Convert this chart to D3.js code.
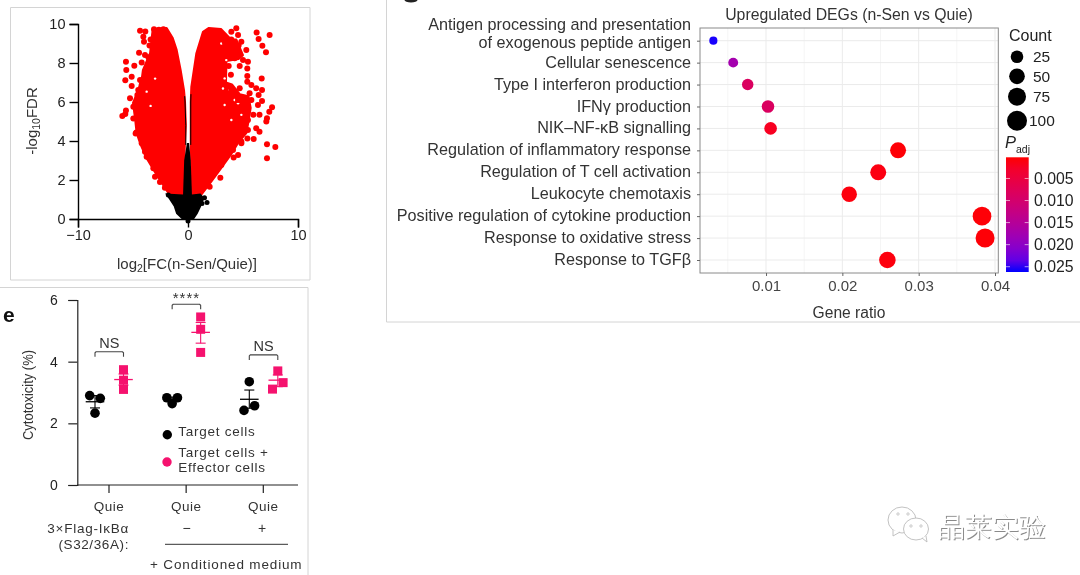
<!DOCTYPE html>
<html><head><meta charset="utf-8">
<script src="https://cdnjs.cloudflare.com/ajax/libs/d3/7.8.5/d3.min.js"></script>
<style>html,body{margin:0;padding:0;background:#fff}svg{display:block;filter:blur(0.35px)}text{font-family:"Liberation Sans",Arial,sans-serif}</style>
</head><body><svg id="c" width="1080" height="575"></svg>
<script>
// ---------- volcano data (log2FC, -log10FDR) ----------
const redLeftOuter=[[-0.45,1.2],[-1.64,1.2],[-2.1,1.6],[-2.85,2.26],[-3.75,3.1],[-4.3,3.8],[-4.67,4.4],[-4.8,5.08],[-5,5.95],[-4.6,6.5],[-4.2,7.2],[-4.1,7.64],[-3.45,8.5],[-3.3,9.3],[-3.2,9.75]];
const redLeftInner=[[-1.94,9.8],[-1.4,9.3],[-1.03,8.67],[-0.67,7.64],[-0.36,6.6],[-0.27,6],[-0.2,4.8],[-0.35,3],[-0.45,1.2]];
const redRightOuter=[[0.36,1.2],[1.2,1.23],[2.1,1.9],[3,2.6],[3.9,3.3],[4.55,3.9],[5.3,4.4],[5.5,5],[5.7,5.7],[5.5,6.3],[4.7,6.4],[4,6.9],[3.45,7],[3.5,8.1],[4.6,8.2],[5,8.4],[4.4,9.2],[3.94,9.2],[3,9.75]];
const redRightInner=[[1.9,9.8],[1.36,9.6],[0.76,8.5],[0.3,6.77],[0.25,6],[0.25,4],[0.36,1.2]];
const redLeftPoints=[[-4.36,9.66],[-3.88,9.61],[-3.09,9.73],[-2.24,9.73],[-2.65,9.7],[-4.06,9.35],[-4,9.09],[-4.45,8.53],[-3.91,8.41],[-4.21,8.02],[-5.64,8.07],[-4.88,7.86],[-5.61,7.64],[-5.12,7.3],[-5.7,7.11],[-5.12,6.82],[-4.36,7.13],[-3.76,7.64],[-4.52,6.62],[-5.27,6.19],[-4.6,6.36],[-5.64,5.56],[-5.97,5.28],[-5.7,5.38],[-4.97,5.16],[-4.7,4.43],[-4.97,5.76],[-4.21,4.9],[-4.21,4.31],[-4,3.88],[-3.5,8.9],[-3.6,8.3],[-3.9,7.1],[-4.2,6.9],[-3.4,9.2],[-4.76,4.39],[-4.21,3.88],[-3.91,3.45],[-3.76,3.19],[-3.15,2.6],[-3,2.17],[-2.55,1.9],[-2.1,1.6]];
const redRightPoints=[[6.24,9.57],[7.42,9.44],[6.42,9.23],[6.76,8.89],[7.09,8.55],[4.39,9.78],[3.94,9.6],[4.55,9.43],[4.85,9.09],[5.3,8.67],[5,8.15],[5.45,8.07],[5.39,7.72],[5.39,7.33],[5.39,7.04],[6.7,7.21],[5.76,6.87],[6.73,6.61],[4.7,6.7],[5.6,6.45],[6.2,6.7],[6.42,6.36],[6.73,6.05],[6.36,5.85],[7.64,5.73],[7.39,5.5],[5.94,5.34],[7.18,5.17],[7.12,5],[6.5,5.34],[5.76,6.1],[3.94,6.62],[4.55,6.1],[5.45,5.08],[6.2,4.65],[4.24,8.24],[3.64,8.67],[3.33,9.09],[3.94,9.2],[6.5,4.47],[5.97,4.1],[5.4,4.13],[7.18,3.83],[7.94,3.69],[7.18,3.11],[4.85,3.88],[4.55,3.28],[4.15,3.15],[2.94,2.12],[1.97,1.66],[4.6,8.9],[4.2,8.7],[4.7,7.85],[3.9,7.4],[3.7,7.85],[3.03,2.77],[3.18,3.71],[2.27,2.26],[4.09,3.54],[4.85,3.97],[5.45,4.56]];
const cloudGaps=[[-3.76,6.53],[-2.99,7.2],[-3.4,5.8],[3.33,5.85],[3.79,6.62],[3.94,5.08],[4.24,6.1],[4.55,5.93],[4.85,5.34],[3.33,7.21],[3.18,6.69],[3.03,9],[3.48,8.15]];
const blackBlob=[[-0.45,1.2],[-1.9,1.25],[-1.6,1],[-1.2,0.65],[-1,0.3],[-0.45,0],[0.45,0],[0.8,0.3],[1.1,0.65],[1.4,1.05],[1.1,1.25],[0.36,1.2]];
const blackSpine=[[-0.45,1.2],[-0.35,3],[-0.1,3.9],[0.1,3.9],[0.25,3],[0.36,1.2]];
const blackEdgeLeft=[[-0.2,3.8],[-0.2,4.8],[-0.27,6],[-0.3,6.3]];
const blackEdgeRight=[[0.25,3.8],[0.25,6],[0.27,6.4]];
const blackPoints=[[1.5,1.09],[1.73,0.85],[1.27,0.8],[-1.79,1.23],[0,-0.1]];
const volcanoXTicks=[-10,0,10], volcanoYTicks=[0,2,4,6,8,10];
// ---------- enrichment dot plot data ----------
const terms=["Antigen processing and presentation\nof exogenous peptide antigen","Cellular senescence","Type I interferon production","IFNγ production","NIK–NF-κB signalling","Regulation of inflammatory response","Regulation of T cell activation","Leukocyte chemotaxis","Positive regulation of cytokine production","Response to oxidative stress","Response to TGFβ"];
const geneRatio=[0.0031,0.0057,0.0076,0.01026,0.0106,0.0273,0.0247,0.0209,0.0383,0.0387,0.0259];
const counts=[4,10,18,25,25,53,53,48,83,87,59];
const padj=[0.026,0.0175,0.0085,0.0085,0.002,0.0005,0.001,0.0008,0.0005,0.0005,0.0008];
const ratioTicks=[0.01,0.02,0.03,0.04], ratioMinor=[0.005,0.015,0.025,0.035];
const countLegend=[25,50,75,100], padjTicks=[0.005,0.01,0.015,0.02,0.025];
// ---------- cytotoxicity data ----------
const groups=["Quie A","Quie B","Quie C"];
const targetValues=[[2.9,2.81,2.33],[2.83,2.83,2.64],[3.35,2.57,2.42]];
const effectorValues=[[3.74,3.4,3.1],[5.45,5.05,4.3],[3.7,3.32,3.11]];
const jitterSide=[[-1,1,0],[-1,1,0],[0,1,-1]], effectorSide=[[0,0,0],[0,0,0],[0,1,-1]];
const targetStats=[[2.7,2.5,2.9],[2.78,2.7,2.85],[2.78,2.49,3.08]];
const effectorStats=[[3.42,3.24,3.6],[4.95,4.6,5.27],[3.4,3.19,3.57]];
const bracketLevel=[4.32,5.86,4.22], bracketText=["NS","****","NS"];
const cytoTicks=[0,2,4,6];

const svg=d3.select("#c");
const frame="#d4d4d4", ink="#333";
function frameLines(pts){svg.append("path").attr("d",d3.line()(pts)).attr("fill","none").attr("stroke",frame).attr("stroke-width",1);}
frameLines([[10.5,280],[10.5,7.5],[310,7.5],[310,280],[10.5,280]]);
frameLines([[386.5,0],[386.5,322],[1080,322]]);
frameLines([[0,287.5],[308,287.5],[308,575]]);

// ===== volcano =====
const vx=d3.scaleLinear().domain([-10,10]).range([78,298]);
const vy=d3.scaleLinear().domain([0,10]).range([219,24]);
const vl=d3.line().x(d=>vx(d[0])).y(d=>vy(d[1]));
const V=svg.append("g");
[redLeftOuter.concat(redLeftInner),redRightOuter.concat(redRightInner)].forEach(p=>
 V.append("path").attr("d",vl(p)+"Z").attr("fill","#fe0000").attr("stroke","#fe0000").attr("stroke-width",2).attr("stroke-linejoin","round"));
V.selectAll("circle.g").data(cloudGaps).join("circle").attr("class","g").attr("cx",d=>vx(d[0])).attr("cy",d=>vy(d[1])).attr("r",1.2).attr("fill","#fff");
V.selectAll("circle.r").data(redLeftPoints.concat(redRightPoints)).join("circle").attr("class","r").attr("cx",d=>vx(d[0])).attr("cy",d=>vy(d[1])).attr("r",3).attr("fill","#fe0000");
V.append("path").attr("d",vl(blackBlob)+"Z").attr("fill","#000").attr("stroke","#000").attr("stroke-width",2);
V.append("path").attr("d",vl(blackSpine)+"Z").attr("fill","#000");
[blackEdgeLeft,blackEdgeRight].forEach(p=>V.append("path").attr("d",vl(p)).attr("fill","none").attr("stroke","#000").attr("stroke-width",1));
V.selectAll("circle.k").data(blackPoints).join("circle").attr("class","k").attr("cx",d=>vx(d[0])).attr("cy",d=>vy(d[1])).attr("r",2.5).attr("fill","#000");
const vxa=svg.append("g").attr("transform",`translate(0,${vy(0)})`).call(d3.axisBottom(vx).tickValues(volcanoXTicks).tickSize(8.5).tickPadding(2).tickFormat(d=>d<0?"−"+(-d):d));
const vya=svg.append("g").attr("transform",`translate(${vx(-10)},0)`).call(d3.axisLeft(vy).tickValues(volcanoYTicks).tickSize(8.5).tickPadding(4));
[vxa,vya].forEach(a=>{a.selectAll(".domain").attr("stroke","#000").attr("stroke-width",1.4);a.selectAll("line").attr("stroke","#000").attr("stroke-width",1.4);a.selectAll("text").attr("font-size",14.5).attr("fill","#222").attr("font-family",'"Liberation Sans"');});
const vt=svg.append("text").attr("x",187).attr("y",269).attr("text-anchor","middle").attr("font-size",15).attr("fill",ink);
vt.append("tspan").text("log");vt.append("tspan").text("2").attr("font-size",10.5).attr("dy",3);vt.append("tspan").text("[FC(n-Sen/Quie)]").attr("dy",-3);
const vyt=svg.append("text").attr("transform","translate(37,121) rotate(-90)").attr("text-anchor","middle").attr("font-size",15).attr("fill",ink);
vyt.append("tspan").text("-log");vyt.append("tspan").text("10").attr("font-size",10.5).attr("dy",3);vyt.append("tspan").text("FDR").attr("dy",-3);

// ===== dot plot =====
const dx=d3.scaleLinear().domain([0,0.04]).range([689.7,995]);
const dy=d3.scalePoint().domain(terms).range([40.7,260]);
const dr=d3.scalePow().exponent(0.5).domain([25,100]).range([6.3,10]);
const pc=d3.scaleLinear().domain([0.0002,0.0262]).range([157.3,272]);
const col=d3.scaleLinear().domain([0.0002,0.0262]).range(["#ff0000","#0000ff"]).interpolate(d3.interpolateLab);
const P={l:700,r:998.3,t:28,b:273};
ratioMinor.forEach(v=>svg.append("line").attr("x1",dx(v)).attr("x2",dx(v)).attr("y1",P.t).attr("y2",P.b).attr("stroke","#f3f3f3").attr("stroke-width",.8));
ratioTicks.forEach(v=>svg.append("line").attr("x1",dx(v)).attr("x2",dx(v)).attr("y1",P.t).attr("y2",P.b).attr("stroke","#ebebeb").attr("stroke-width",1));
terms.forEach(t=>svg.append("line").attr("x1",P.l).attr("x2",P.r).attr("y1",dy(t)).attr("y2",dy(t)).attr("stroke","#ebebeb").attr("stroke-width",1));
svg.append("rect").attr("x",P.l).attr("y",P.t).attr("width",P.r-P.l).attr("height",P.b-P.t).attr("fill","none").attr("stroke","#8a8a8a").attr("stroke-width",1);
svg.selectAll("circle.d").data(terms).join("circle").attr("class","d").attr("cx",(d,i)=>dx(geneRatio[i])).attr("cy",d=>dy(d)).attr("r",(d,i)=>dr(counts[i])).attr("fill",(d,i)=>col(padj[i]));
const dxa=svg.append("g").attr("transform",`translate(0,${P.b})`).call(d3.axisBottom(dx).tickValues(ratioTicks).tickSize(3).tickPadding(4).tickFormat(d3.format(".2f")));
dxa.select(".domain").remove();
dxa.selectAll("text").attr("font-size",15).attr("fill","#444").attr("font-family",'"Liberation Sans"');
dxa.selectAll("line").attr("stroke","#666");
const dya=svg.append("g").attr("transform",`translate(${P.l},0)`).call(d3.axisLeft(dy).tickSize(3).tickPadding(6));
dya.select(".domain").remove();dya.selectAll("line").attr("stroke","#666");
dya.selectAll("text").attr("font-size",16.2).attr("fill","#333").attr("font-family",'"Liberation Sans"').attr("dy","0.28em").each(function(d){
  const parts=d.split("\n");if(parts.length>1){const s=d3.select(this);s.text(null);const x=s.attr("x");
   s.append("tspan").attr("x",x).attr("dy","-0.72em").text(parts[0]);s.append("tspan").attr("x",x).attr("dy","1.15em").text(parts[1]);}
});
svg.append("text").attr("x",849).attr("y",14).attr("dy","0.35em").attr("text-anchor","middle").attr("font-size",15.8).attr("fill",ink).text("Upregulated DEGs (n-Sen vs Quie)");
svg.append("text").attr("x",849).attr("y",313).attr("dy","0.35em").attr("text-anchor","middle").attr("font-size",15.6).attr("fill",ink).text("Gene ratio");
// sliver of a panel letter at the top edge
svg.append("ellipse").attr("cx",411).attr("cy",0).attr("rx",6.5).attr("ry",2.6).attr("fill","#222");
// count legend
svg.append("text").attr("x",1009).attr("y",35).attr("dy","0.35em").attr("font-size",16).attr("fill","#222").text("Count");
const legY=d3.scaleOrdinal().domain(countLegend).range([56.7,76.3,96.7,120.7]);
countLegend.forEach(c=>{
 svg.append("circle").attr("cx",1017).attr("cy",legY(c)).attr("r",dr(c)).attr("fill","#000");
 svg.append("text").attr("x",c===100?1029:1033).attr("y",legY(c)).attr("dy","0.35em").attr("font-size",15.5).attr("fill","#222").text(c);
});
const pt=svg.append("text").attr("x",1005).attr("y",148).attr("font-size",16.5).attr("fill","#222");
pt.append("tspan").text("P").attr("font-style","italic");pt.append("tspan").text("adj").attr("font-size",10.5).attr("dy",5);
// colour bar
const defs=svg.append("defs");
const grad=defs.append("linearGradient").attr("id","pg").attr("x1",0).attr("x2",0).attr("y1",0).attr("y2",1);
d3.range(0,1.001,0.1).forEach(t=>grad.append("stop").attr("offset",t).attr("stop-color",col(0.0002+t*0.026)));
svg.append("rect").attr("x",1006).attr("y",157.3).attr("width",22.7).attr("height",114.7).attr("fill","url(#pg)");
padjTicks.forEach(v=>{
 svg.append("line").attr("x1",1006).attr("x2",1010).attr("y1",pc(v)).attr("y2",pc(v)).attr("stroke","#fff").attr("stroke-width",.6);
 svg.append("line").attr("x1",1024.7).attr("x2",1028.7).attr("y1",pc(v)).attr("y2",pc(v)).attr("stroke","#fff").attr("stroke-width",.6);
 svg.append("text").attr("x",1034).attr("y",pc(v)).attr("dy","0.35em").attr("font-size",15.8).attr("fill","#222").text(d3.format(".3f")(v));
});

// ===== cytotoxicity =====
const cx=d3.scalePoint().domain(groups).range([109,263.3]);
const cy=d3.scaleLinear().domain([0,6]).range([485,300]);
const black="#000", pink="#f5126e";
const cxa=svg.append("g").attr("transform",`translate(0,${cy(0)})`);
cxa.append("line").attr("x1",77).attr("x2",298).attr("stroke","#222").attr("stroke-width",1.2);
groups.forEach(g=>cxa.append("line").attr("x1",cx(g)).attr("x2",cx(g)).attr("y2",8).attr("stroke","#222").attr("stroke-width",1.2));
const cya=svg.append("g").attr("transform","translate(77.3,0)").call(d3.axisLeft(cy).tickValues(cytoTicks).tickSize(9).tickPadding(10).tickFormat(d3.format("d")));
cya.select(".domain").attr("stroke","#222").attr("stroke-width",1.2);cya.selectAll("line").attr("stroke","#222").attr("stroke-width",1.2);
cya.selectAll("text").attr("font-size",14).attr("letter-spacing",.4).attr("fill","#222").attr("font-family",'"Liberation Sans"');
svg.append("text").attr("transform","translate(33,395) rotate(-90)").attr("text-anchor","middle").attr("font-size",14).attr("textLength",90).attr("lengthAdjust","spacingAndGlyphs").attr("fill",ink).text("Cytotoxicity (%)");
const off={t:-14,e:14.5};
function stat(x,s,c){
 svg.append("line").attr("x1",x-9.3).attr("x2",x+9.3).attr("y1",cy(s[0])).attr("y2",cy(s[0])).attr("stroke",c).attr("stroke-width",1.3);
 svg.append("line").attr("x1",x).attr("x2",x).attr("y1",cy(s[1])).attr("y2",cy(s[2])).attr("stroke",c).attr("stroke-width",1.1);
 [s[1],s[2]].forEach(v=>svg.append("line").attr("x1",x-5).attr("x2",x+5).attr("y1",cy(v)).attr("y2",cy(v)).attr("stroke",c).attr("stroke-width",1.1));
}
groups.forEach((g,i)=>{
 const xt=cx(g)+off.t, xe=cx(g)+off.e;
 targetValues[i].forEach((v,j)=>svg.append("circle").attr("cx",xt+jitterSide[i][j]*5.3).attr("cy",cy(v)).attr("r",4.8).attr("fill",black));
 effectorValues[i].forEach((v,j)=>svg.append("rect").attr("x",xe+effectorSide[i][j]*5.3-4.5).attr("y",cy(v)-4.5).attr("width",9).attr("height",9).attr("fill",pink));
 stat(xt,targetStats[i],black);stat(xe,effectorStats[i],pink);
 const b=cy(bracketLevel[i]);
 svg.append("path").attr("d",d3.line()([[xt,b+5],[xt,b+1],[xt+1,b],[xe-1,b],[xe,b+1],[xe,b+5]])).attr("fill","none").attr("stroke","#444").attr("stroke-width",1.1);
 const isStar=bracketText[i]==="****";
 svg.append("text").attr("x",(xt+xe)/2).attr("y",b+(isStar?-1:-4)).attr("text-anchor","middle").attr("font-size",isStar?15:14.5).attr("letter-spacing",isStar?1:0).attr("fill",ink).text(bracketText[i]);
 svg.append("text").attr("x",cx(g)).attr("y",506.7).attr("dy","0.35em").attr("text-anchor","middle").attr("font-size",13.5).attr("letter-spacing",.5).attr("fill",ink).text("Quie");
});
svg.append("circle").attr("cx",167.3).attr("cy",434.7).attr("r",4.7).attr("fill",black);
svg.append("circle").attr("cx",167).attr("cy",462).attr("r",4.7).attr("fill",pink);
[["Target cells",431],["Target cells +",452.7],["Effector cells",467.7]].forEach(d=>
 svg.append("text").attr("x",178.3).attr("y",d[1]).attr("dy","0.35em").attr("font-size",13.5).attr("letter-spacing",.75).attr("fill",ink).text(d[0]));
svg.append("text").attr("x",129).attr("y",528).attr("dy","0.35em").attr("text-anchor","end").attr("font-size",13.5).attr("letter-spacing",.75).attr("fill",ink).text("3×Flag-IκBα");
svg.append("text").attr("x",129).attr("y",544).attr("dy","0.35em").attr("text-anchor","end").attr("font-size",13.5).attr("letter-spacing",.6).attr("fill",ink).text("(S32/36A):");
svg.append("text").attr("x",186.7).attr("y",528).attr("dy","0.35em").attr("text-anchor","middle").attr("font-size",14).attr("fill",ink).text("−");
svg.append("text").attr("x",262).attr("y",528).attr("dy","0.35em").attr("text-anchor","middle").attr("font-size",14).attr("fill",ink).text("+");
svg.append("line").attr("x1",165).attr("x2",288).attr("y1",544.3).attr("y2",544.3).attr("stroke","#333").attr("stroke-width",1);
svg.append("text").attr("x",150).attr("y",564).attr("dy","0.35em").attr("font-size",13.5).attr("letter-spacing",.85).attr("fill",ink).text("+ Conditioned medium");
svg.append("text").attr("x",3).attr("y",322).attr("font-size",21).attr("font-weight","bold").attr("fill","#111").text("e");

// ===== watermark =====
const W=svg.append("g");
W.append("text").attr("x",939).attr("y",537).attr("font-size",27).attr("font-family",'"Noto Sans CJK SC"').attr("fill","#8a8a8a").text("晶莱实验");
W.append("text").attr("x",938).attr("y",536).attr("font-size",27).attr("font-family",'"Noto Sans CJK SC"').attr("fill","#fff").text("晶莱实验");
[[902,520,14,13],[916,529,12.5,11]].forEach(e=>W.append("ellipse").attr("cx",e[0]).attr("cy",e[1]).attr("rx",e[2]).attr("ry",e[3]).attr("fill","#fff").attr("stroke","#bbb").attr("stroke-width",.9));
W.append("path").attr("d","M893 530 L893 536 L900 532").attr("fill","#fff").attr("stroke","#bbb").attr("stroke-width",.9);
W.append("path").attr("d","M922 538 L927 542 L926 536").attr("fill","#fff").attr("stroke","#bbb").attr("stroke-width",.9);
[[898,514],[908,514],[911,526],[921,526]].forEach(e=>W.append("circle").attr("cx",e[0]).attr("cy",e[1]).attr("r",1.2).attr("fill","#fff").attr("stroke","#aaa").attr("stroke-width",.6));
</script></body></html>
